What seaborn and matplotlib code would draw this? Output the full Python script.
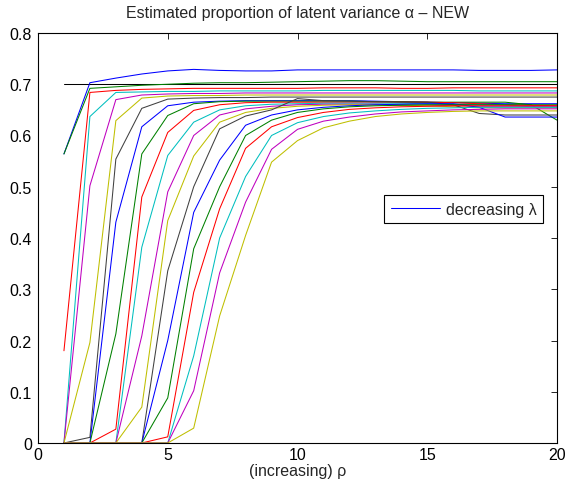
import numpy as np
import pandas as pd
import matplotlib
matplotlib.use("Agg")
import matplotlib.pyplot as plt
import seaborn as sns

rho = list(range(1, 21))
reference_alpha = [0.7] * 20

line01 = [0.564, 0.703, 0.712, 0.720, 0.726, 0.729, 0.727, 0.726, 0.726, 0.728, 0.728, 0.728, 0.728, 0.728, 0.728, 0.728, 0.727, 0.727, 0.727, 0.728]
line02 = [0.564, 0.692, 0.695, 0.698, 0.700, 0.702, 0.703, 0.703, 0.704, 0.705, 0.706, 0.707, 0.707, 0.706, 0.705, 0.705, 0.705, 0.705, 0.705, 0.705]
line03 = [0.180, 0.684, 0.688, 0.690, 0.691, 0.692, 0.692, 0.692, 0.692, 0.692, 0.693, 0.693, 0.693, 0.692, 0.692, 0.693, 0.693, 0.693, 0.693, 0.693]
line04 = [0.0, 0.637, 0.684, 0.685, 0.686, 0.686, 0.687, 0.687, 0.687, 0.687, 0.688, 0.688, 0.688, 0.688, 0.688, 0.688, 0.687, 0.687, 0.687, 0.687]
line05 = [0.0, 0.502, 0.670, 0.679, 0.681, 0.682, 0.682, 0.683, 0.683, 0.683, 0.683, 0.683, 0.683, 0.683, 0.683, 0.683, 0.683, 0.683, 0.683, 0.683]
line06 = [0.0, 0.196, 0.629, 0.673, 0.677, 0.678, 0.678, 0.679, 0.679, 0.679, 0.679, 0.679, 0.679, 0.679, 0.679, 0.679, 0.679, 0.679, 0.679, 0.679]
line07 = [0.0, 0.011, 0.554, 0.653, 0.671, 0.673, 0.674, 0.674, 0.675, 0.675, 0.675, 0.675, 0.675, 0.675, 0.675, 0.675, 0.675, 0.675, 0.675, 0.675]
line08 = [0.0, 0.0, 0.431, 0.617, 0.658, 0.665, 0.667, 0.668, 0.668, 0.668, 0.668, 0.668, 0.667, 0.666, 0.665, 0.664, 0.663, 0.662, 0.662, 0.662]
line09 = [0.0, 0.0, 0.213, 0.564, 0.639, 0.662, 0.666, 0.667, 0.667, 0.667, 0.667, 0.667, 0.666, 0.666, 0.665, 0.665, 0.665, 0.665, 0.660, 0.630]
line10 = [0.0, 0.0, 0.027, 0.480, 0.606, 0.649, 0.660, 0.664, 0.665, 0.665, 0.665, 0.665, 0.665, 0.665, 0.665, 0.664, 0.662, 0.660, 0.659, 0.658]
line11 = [0.0, 0.0, 0.0, 0.382, 0.561, 0.626, 0.650, 0.658, 0.661, 0.662, 0.663, 0.663, 0.663, 0.663, 0.662, 0.661, 0.660, 0.660, 0.656, 0.655]
line12 = [0.0, 0.0, 0.0, 0.209, 0.490, 0.600, 0.640, 0.652, 0.657, 0.660, 0.661, 0.661, 0.661, 0.660, 0.659, 0.658, 0.657, 0.657, 0.657, 0.657]
line13 = [0.0, 0.0, 0.0, 0.070, 0.434, 0.560, 0.626, 0.645, 0.653, 0.657, 0.659, 0.660, 0.660, 0.659, 0.658, 0.656, 0.654, 0.654, 0.654, 0.654]
line14 = [0.0, 0.0, 0.0, 0.0, 0.336, 0.500, 0.613, 0.638, 0.650, 0.672, 0.668, 0.667, 0.666, 0.665, 0.665, 0.660, 0.643, 0.640, 0.640, 0.640]
line15 = [0.0, 0.0, 0.0, 0.0, 0.200, 0.450, 0.552, 0.620, 0.640, 0.650, 0.655, 0.658, 0.660, 0.661, 0.662, 0.662, 0.655, 0.636, 0.636, 0.636]
line16 = [0.0, 0.0, 0.0, 0.0, 0.088, 0.379, 0.500, 0.600, 0.630, 0.645, 0.652, 0.656, 0.658, 0.659, 0.660, 0.660, 0.660, 0.660, 0.660, 0.660]
line17 = [0.0, 0.0, 0.0, 0.0, 0.012, 0.294, 0.457, 0.575, 0.617, 0.635, 0.645, 0.651, 0.654, 0.656, 0.657, 0.658, 0.658, 0.658, 0.658, 0.658]
line18 = [0.0, 0.0, 0.0, 0.0, 0.0, 0.170, 0.400, 0.520, 0.600, 0.625, 0.637, 0.644, 0.648, 0.651, 0.653, 0.654, 0.655, 0.655, 0.655, 0.655]
line19 = [0.0, 0.0, 0.0, 0.0, 0.0, 0.102, 0.332, 0.470, 0.573, 0.612, 0.628, 0.636, 0.642, 0.646, 0.648, 0.650, 0.651, 0.652, 0.652, 0.652]
line20 = [0.0, 0.0, 0.0, 0.0, 0.0, 0.029, 0.248, 0.405, 0.548, 0.590, 0.615, 0.628, 0.637, 0.642, 0.645, 0.647, 0.648, 0.648, 0.648, 0.648]

curves = [line01, line02, line03, line04, line05, line06, line07, line08, line09, line10,
          line11, line12, line13, line14, line15, line16, line17, line18, line19, line20]

matlab_colors = [(0, 0, 1), (0, 0.5, 0), (1, 0, 0), (0, 0.75, 0.75),
                 (0.75, 0, 0.75), (0.75, 0.75, 0), (0.25, 0.25, 0.25)]

sns.set_style("white")
plt.rcParams['font.family'] = ['Liberation Sans', 'DejaVu Sans']
plt.rcParams['font.size'] = 11.5

fig = plt.figure(figsize=(5.66, 4.89), dpi=100)
ax = fig.add_axes([38 / 566, 45 / 489, 519 / 566, 410 / 489])

ref_df = pd.DataFrame({"rho": rho, "alpha": reference_alpha})
sns.lineplot(data=ref_df, x="rho", y="alpha", color="black", lw=0.75, ax=ax,
             estimator=None, sort=False)

rows = []
for i, c in enumerate(curves):
    for r, a in zip(rho, c):
        rows.append({"rho": r, "alpha": a, "curve": i})
df = pd.DataFrame(rows)
palette = [matlab_colors[i % 7] for i in range(len(curves))]
sns.lineplot(data=df, x="rho", y="alpha", hue="curve", palette=palette, lw=0.75,
             ax=ax, estimator=None, sort=False, legend=False)

ax.set_xlim(0, 20)
ax.set_ylim(0, 0.8)
ax.set_xticks([0, 5, 10, 15, 20])
ax.set_yticks(np.arange(0, 0.81, 0.1))
ax.set_yticklabels(["0", "0.1", "0.2", "0.3", "0.4", "0.5", "0.6", "0.7", "0.8"])
ax.tick_params(direction="in", top=True, right=True, length=4, width=0.6,
               labelsize=11.5, colors="black")
ax.tick_params(axis="y", pad=4.5)
ax.tick_params(axis="x", pad=3)
for s in ax.spines.values():
    s.set_visible(True)
    s.set_color("black")
    s.set_linewidth(0.8)

ax.set_xlabel("(increasing) ρ", fontsize=11.5, labelpad=0.5)
ax.set_ylabel("")
ax.set_title("Estimated proportion of latent variance α – NEW", fontsize=11.5, pad=11.5)

blue_handle = ax.lines[1]
leg = ax.legend([blue_handle], ["decreasing λ"], loc="upper left",
                bbox_to_anchor=(0.667, 0.605), borderaxespad=0, fontsize=11.5,
                frameon=True, fancybox=False, edgecolor="black", framealpha=1,
                handlelength=3.1, borderpad=0.42, handletextpad=0.35)
leg.get_frame().set_linewidth(0.8)

fig.savefig("out.png", dpi=100)
